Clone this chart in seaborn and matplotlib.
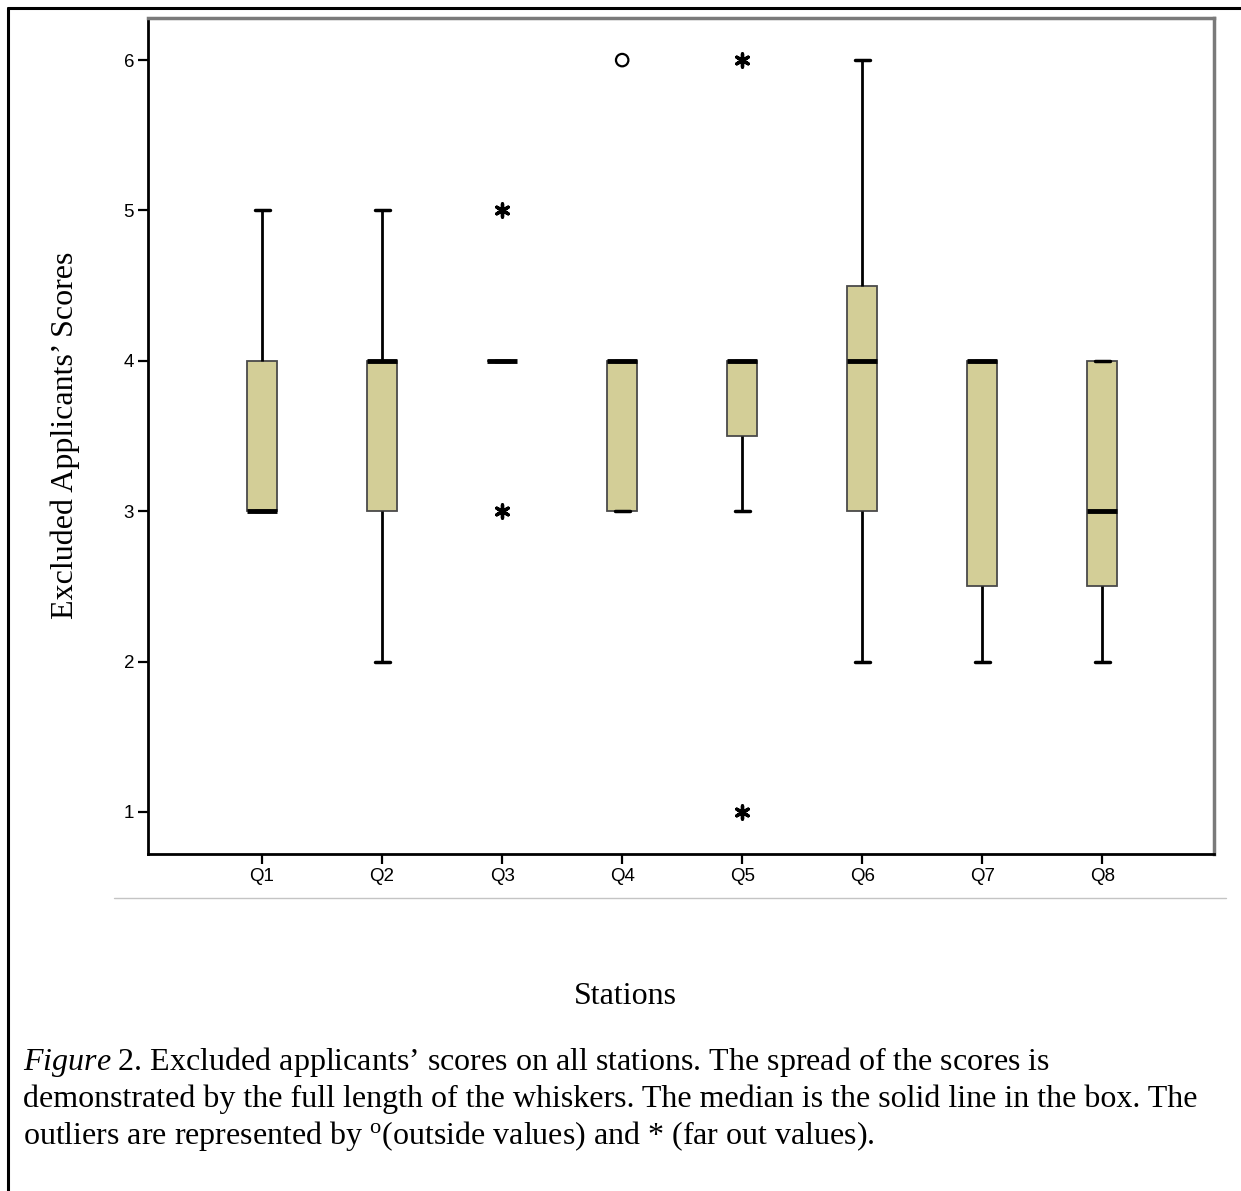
import matplotlib
matplotlib.use("Agg")
import matplotlib.pyplot as plt
from matplotlib.lines import Line2D
import seaborn as sns
import pandas as pd

# --- DATA (scores of the excluded applicants, one list per station) ---
stations = ["Q1", "Q2", "Q3", "Q4", "Q5", "Q6", "Q7", "Q8"]
scores_q1 = [3, 3, 3, 3, 4, 4, 5]
scores_q2 = [2, 3, 3, 4, 4, 4, 5]
scores_q3 = [3, 4, 4, 4, 4, 4, 5]
scores_q4 = [3, 3, 3, 4, 4, 4, 6]
scores_q5 = [1, 3, 4, 4, 4, 4, 6]
scores_q6 = [2, 3, 3, 4, 4, 5, 6]
scores_q7 = [2, 2, 3, 4, 4, 4, 4]
scores_q8 = [2, 2, 3, 3, 4, 4, 4]

# outliers as SPSS marks them: o = outside, * = far out
outside_station = ["Q4"]
outside_value = [6]
farout_station = ["Q3", "Q3", "Q5", "Q5"]
farout_value = [5, 3, 6, 1]

y_ticks = [1, 2, 3, 4, 5, 6]

y_label = "Excluded Applicants\u2019 Scores"
x_label = "Stations"

all_scores = [scores_q1, scores_q2, scores_q3, scores_q4,
              scores_q5, scores_q6, scores_q7, scores_q8]
rows = []
for st, vals in zip(stations, all_scores):
    for v in vals:
        rows.append({"station": st, "score": v})
df = pd.DataFrame(rows)

BOX_COLOR = "#D3CE97"

sns.set_style("white")
plt.rcParams["font.family"] = ["Liberation Sans", "DejaVu Sans"]
plt.rcParams["text.color"] = "black"
plt.rcParams["mathtext.fontset"] = "custom"
plt.rcParams["mathtext.rm"] = "Liberation Serif"
plt.rcParams["mathtext.it"] = "Liberation Serif:italic"

W, H = 1241, 1191
fig = plt.figure(figsize=(W / 100, H / 100), dpi=100)
ax = fig.add_axes([148 / W, 1 - 854 / H, (1214 - 148) / W, (854 - 18) / H])

sns.boxplot(
    data=df, x="station", y="score", order=stations, ax=ax,
    width=0.25, color=BOX_COLOR, saturation=1, showfliers=False,
    linecolor="black", linewidth=2,
    boxprops=dict(edgecolor="#4a4a4a", linewidth=1.3),
    medianprops=dict(color="black", linewidth=3.5),
    whiskerprops=dict(color="black", linewidth=2),
    capprops=dict(color="black", linewidth=2.5),
)

ax.scatter([stations.index(s) for s in outside_station], outside_value,
           marker="o", s=80, facecolors="none", edgecolors="black",
           linewidths=1.6, zorder=5)
ax.scatter([stations.index(s) for s in farout_station], farout_value,
           marker=(6, 2, 0), s=90, color="black", linewidths=2.4, zorder=5)

ax.set_xlim(-0.95, 7.93)
ax.set_ylim(0.72, 6.28)
ax.set_yticks(y_ticks)
ax.set_xlabel("")
ax.set_ylabel("")
ax.tick_params(axis="both", direction="out", length=7, width=1.6,
               color="black", labelcolor="black", labelsize=13.5, pad=3,
               left=True, bottom=True)

for side in ["left", "bottom"]:
    ax.spines[side].set_color("black")
    ax.spines[side].set_linewidth(2)
for side in ["top", "right"]:
    ax.spines[side].set_color("#7a7a7a")
    ax.spines[side].set_linewidth(2.5)

serif = ["Liberation Serif", "DejaVu Serif"]
fig.text(65 / W, 1 - 435 / H, y_label, rotation=90, ha="center", va="center",
         fontsize=23, family=serif, color="black")
fig.text(625 / W, 1 - 997 / H, x_label, ha="center", va="center",
         fontsize=23, family=serif, color="black")

# grey rule under the tick labels
fig.add_artist(Line2D([114 / W, 1226 / W], [1 - 898 / H, 1 - 898 / H],
                      color="#c4c4c4", linewidth=1))
# outer frame (left and top edges)
fig.add_artist(Line2D([7.5 / W, 7.5 / W], [0, 1 - 7.5 / H], color="black", linewidth=2.2))
fig.add_artist(Line2D([7.5 / W, 1], [1 - 7.5 / H, 1 - 7.5 / H], color="black", linewidth=2.2))

caption = [
    r"$\mathit{Figure\ 2}$. Excluded applicants" + "\u2019" + " scores on all stations. The spread of the scores is",
    "demonstrated by the full length of the whiskers. The median is the solid line in the box. The",
    r"outliers are represented by $^{\mathrm{o}}$(outside values) and * (far out values).",
]
for i, line in enumerate(caption):
    fig.text(23 / W, 1 - (1062 + i * 37) / H, line, ha="left", va="center",
             fontsize=23, family=serif, color="black")

fig.savefig("out.png", dpi=100)
